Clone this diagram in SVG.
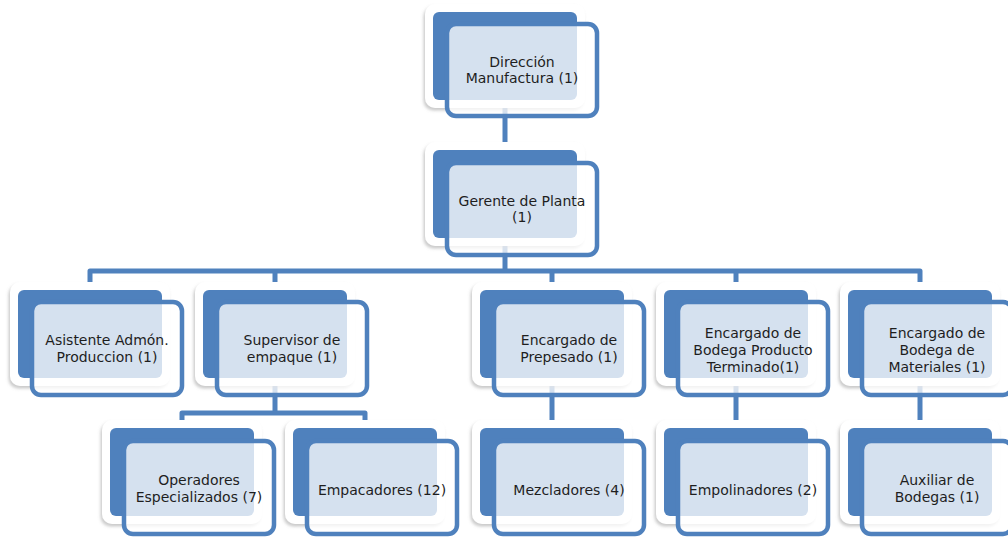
<svg xmlns="http://www.w3.org/2000/svg" width="1008" height="537" viewBox="0 0 1008 537">
  <style>
    .halo { fill: #ffffff; filter: url(#glow); }
    .back { fill: #4f81bd; }
    .front { fill: #ffffff; fill-opacity: 0.76; stroke: #4f81bd; stroke-width: 4.5; }
    .lbl { font-family: "DejaVu Sans", Verdana, sans-serif; font-size: 14px; fill: #1e1e1e; text-anchor: middle; }
    .wire { fill: none; stroke: #4f81bd; stroke-width: 5; stroke-linejoin: round; }
  </style>
  <defs>
    <filter id="glow" x="-10%" y="-10%" width="120%" height="130%">
      <feDropShadow dx="-1.5" dy="2.5" stdDeviation="1.8" flood-color="#8a8a8a" flood-opacity="0.45"/>
    </filter>
  </defs>

  <rect width="1008" height="537" fill="#ffffff"/>

  <!-- connectors -->
  <g id="connectors">
    <path class="wire" d="M505,100 V150"/>
    <path class="wire" d="M505,238 V271"/>
    <path class="wire" d="M90,290 V271 H920 V290"/>
    <path class="wire" d="M275,271 V290"/>
    <path class="wire" d="M552,271 V290"/>
    <path class="wire" d="M736,271 V290"/>
    <path class="wire" d="M275,378 V413"/>
    <path class="wire" d="M182,428 V413 H365 V428"/>
    <path class="wire" d="M552,378 V428"/>
    <path class="wire" d="M736,378 V428"/>
    <path class="wire" d="M920,378 V428"/>
  </g>

  <!-- row 0 -->
  <g id="n-direccion">
    <rect class="halo" x="425" y="4" width="160" height="104" rx="10"/>
    <rect class="back" x="433" y="12" width="144" height="88" rx="6"/>
    <rect class="front" x="447" y="24" width="150" height="92" rx="9"/>
    <text class="lbl"><tspan x="522" y="67">Dirección</tspan><tspan x="522" y="83">Manufactura (1)</tspan></text>
  </g>

  <!-- row 1 -->
  <g id="n-gerente">
    <rect class="halo" x="425" y="142" width="160" height="104" rx="10"/>
    <rect class="back" x="433" y="150" width="144" height="88" rx="6"/>
    <rect class="front" x="447" y="163" width="150" height="92" rx="9"/>
    <text class="lbl"><tspan x="522" y="206">Gerente de Planta</tspan><tspan x="522" y="222">(1)</tspan></text>
  </g>

  <!-- row 2 -->
  <g id="n-asistente">
    <rect class="halo" x="10" y="282" width="160" height="104" rx="10"/>
    <rect class="back" x="18" y="290" width="144" height="88" rx="6"/>
    <rect class="front" x="32" y="302" width="150" height="93" rx="9"/>
    <text class="lbl"><tspan x="107" y="345">Asistente Admón.</tspan><tspan x="107" y="362">Produccion (1)</tspan></text>
  </g>
  <g id="n-supervisor">
    <rect class="halo" x="195" y="282" width="160" height="104" rx="10"/>
    <rect class="back" x="203" y="290" width="144" height="88" rx="6"/>
    <rect class="front" x="217" y="302" width="150" height="93" rx="9"/>
    <text class="lbl"><tspan x="292" y="345">Supervisor de</tspan><tspan x="292" y="362">empaque (1)</tspan></text>
  </g>
  <g id="n-prepesado">
    <rect class="halo" x="472" y="282" width="160" height="104" rx="10"/>
    <rect class="back" x="480" y="290" width="144" height="88" rx="6"/>
    <rect class="front" x="494" y="302" width="150" height="93" rx="9"/>
    <text class="lbl"><tspan x="569" y="345">Encargado de</tspan><tspan x="569" y="362">Prepesado (1)</tspan></text>
  </g>
  <g id="n-bodega-pt">
    <rect class="halo" x="656" y="282" width="160" height="104" rx="10"/>
    <rect class="back" x="664" y="290" width="144" height="88" rx="6"/>
    <rect class="front" x="678" y="302" width="150" height="93" rx="9"/>
    <text class="lbl"><tspan x="753" y="338">Encargado de</tspan><tspan x="753" y="355">Bodega Producto</tspan><tspan x="753" y="372">Terminado(1)</tspan></text>
  </g>
  <g id="n-bodega-mat">
    <rect class="halo" x="840" y="282" width="160" height="104" rx="10"/>
    <rect class="back" x="848" y="290" width="144" height="88" rx="6"/>
    <rect class="front" x="862" y="302" width="150" height="93" rx="9"/>
    <text class="lbl"><tspan x="937" y="338">Encargado de</tspan><tspan x="937" y="355">Bodega de</tspan><tspan x="937" y="372">Materiales (1)</tspan></text>
  </g>

  <!-- row 3 -->
  <g id="n-operadores">
    <rect class="halo" x="102" y="420" width="160" height="104" rx="10"/>
    <rect class="back" x="110" y="428" width="144" height="88" rx="6"/>
    <rect class="front" x="124" y="441" width="150" height="93" rx="9"/>
    <text class="lbl"><tspan x="199" y="485">Operadores</tspan><tspan x="199" y="502">Especializados (7)</tspan></text>
  </g>
  <g id="n-empacadores">
    <rect class="halo" x="285" y="420" width="160" height="104" rx="10"/>
    <rect class="back" x="293" y="428" width="144" height="88" rx="6"/>
    <rect class="front" x="307" y="441" width="150" height="93" rx="9"/>
    <text class="lbl"><tspan x="382" y="495">Empacadores (12)</tspan></text>
  </g>
  <g id="n-mezcladores">
    <rect class="halo" x="472" y="420" width="160" height="104" rx="10"/>
    <rect class="back" x="480" y="428" width="144" height="88" rx="6"/>
    <rect class="front" x="494" y="441" width="150" height="93" rx="9"/>
    <text class="lbl"><tspan x="569" y="495">Mezcladores (4)</tspan></text>
  </g>
  <g id="n-empolinadores">
    <rect class="halo" x="656" y="420" width="160" height="104" rx="10"/>
    <rect class="back" x="664" y="428" width="144" height="88" rx="6"/>
    <rect class="front" x="678" y="441" width="150" height="93" rx="9"/>
    <text class="lbl"><tspan x="753" y="495">Empolinadores (2)</tspan></text>
  </g>
  <g id="n-auxiliar">
    <rect class="halo" x="840" y="420" width="160" height="104" rx="10"/>
    <rect class="back" x="848" y="428" width="144" height="88" rx="6"/>
    <rect class="front" x="862" y="441" width="150" height="93" rx="9"/>
    <text class="lbl"><tspan x="937" y="485">Auxiliar de</tspan><tspan x="937" y="502">Bodegas (1)</tspan></text>
  </g>
</svg>
